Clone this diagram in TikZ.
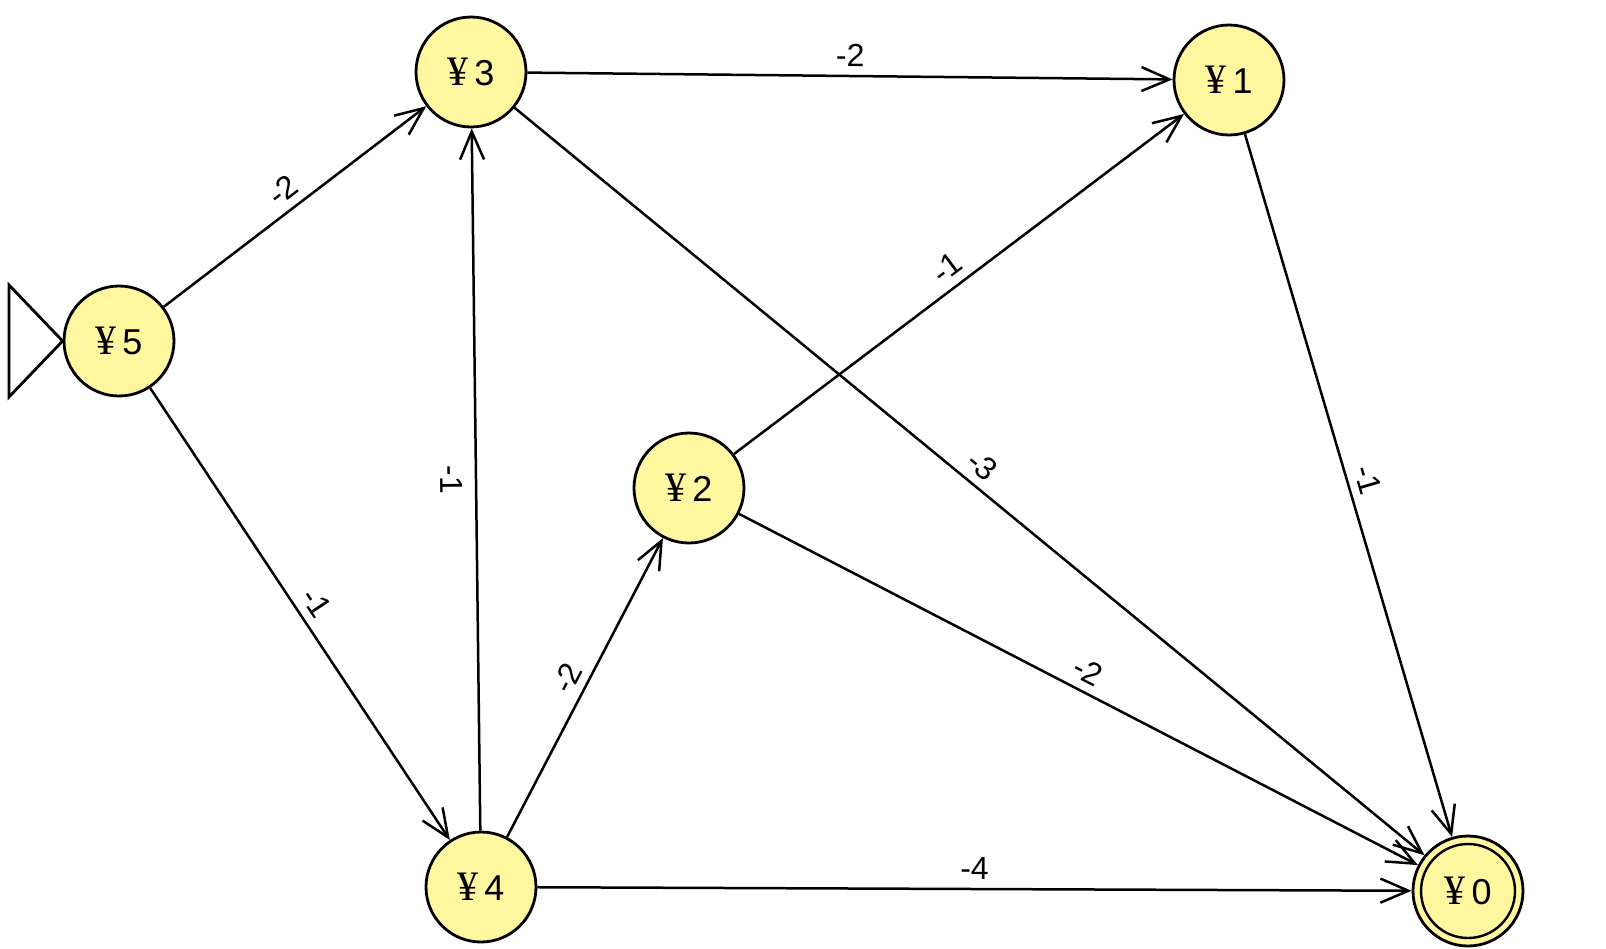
\documentclass[tikz,border=0pt]{standalone}
\usepackage{fontspec}
\setmainfont{Liberation Sans}
\newfontfamily\yenfont{Liberation Serif}
\usetikzlibrary{arrows.meta}
\definecolor{nodefill}{HTML}{FFF7A0}
\tikzset{
  statebox/.style={circle, draw=black, line width=2.8pt, fill=nodefill, minimum size=110pt, inner sep=0pt, font=\fontsize{36}{40}\selectfont},
  trans/.style={line width=2.5pt, -{Straight Barb[length=28pt,width=24pt,line width=2.5pt]}},
  lbl/.style={font=\fontsize{32}{36}\selectfont, sloped, inner sep=8pt, midway},
  initri/.style={line width=2.8pt, line join=miter},
}
\newcommand{\yen}[1]{{\yenfont\fontsize{42}{44}\selectfont ¥}\,#1}
\begin{document}
\begin{tikzpicture}[x=1pt,y=-1pt]
  \useasboundingbox (0,0) rectangle (1606,948);
  \node[statebox] (n5) at (119,341) {\yen{5}};
  \node[statebox] (n3) at (471,72) {\yen{3}};
  \node[statebox] (n1) at (1229,80) {\yen{1}};
  \node[statebox] (n2) at (689,488) {\yen{2}};
  \node[statebox] (n4) at (481,887) {\yen{4}};
  \node[statebox] (n0) at (1468,891) {\yen{0}};
  \draw[line width=2.4pt] (n0) circle (47pt);
  % initial marker
  \coordinate (t1) at (9,285);
  \coordinate (t2) at (9,397);
  \draw[initri] (n5.west) -- (t1) -- (t2) -- cycle;
  % transitions
  \draw[trans] (n5) -- node[lbl, above] {-2} (n3);
  \draw[trans] (n5) -- node[lbl, above] {-1} (n4);
  \draw[trans] (n3) -- node[lbl, above] {-2} (n1);
  \draw[trans] (n4) -- node[lbl, below, inner sep=12pt] {-1} (n3);
  \draw[trans] (n4) -- node[lbl, above] {-2} (n2);
  \draw[trans] (n2) -- node[lbl, above] {-1} (n1);
  \draw[trans] (n3) -- node[lbl, above] {-3} (n0);
  \draw[trans] (n2) -- node[lbl, above] {-2} (n0);
  \draw[trans] (n4) -- node[lbl, above] {-4} (n0);
  \draw[trans] (n1) -- node[lbl, above] {-1} (n0);
\end{tikzpicture}
\end{document}
